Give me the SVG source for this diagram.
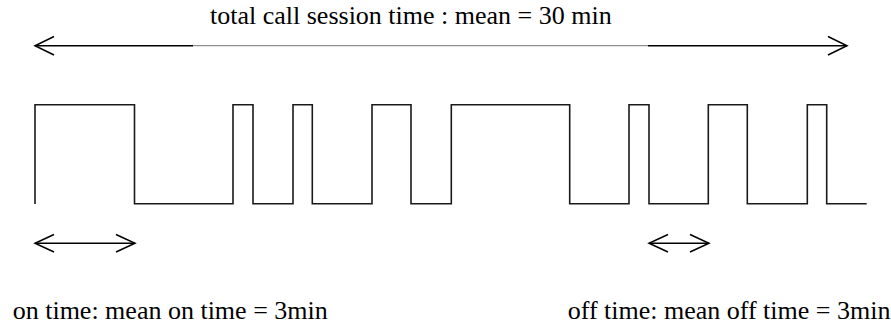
<svg xmlns="http://www.w3.org/2000/svg" width="891" height="333" viewBox="0 0 891 333">
  <style>
    .lbl { font-family: "Liberation Serif", "Times New Roman", serif; font-size: 26px; fill: #000; }
    .wave { fill: none; stroke: #1a1a1a; stroke-width: 1.6; stroke-linejoin: miter; }
    .arr { fill: none; stroke: #000; stroke-width: 1.5; }
    .thin { fill: none; stroke: #777; stroke-width: 1; }
  </style>
  <rect width="891" height="333" fill="#fff"/>

  <g id="session-label">
    <text class="lbl" x="210" y="24">total call session time : mean = 30 min</text>
  </g>

  <g id="connectors">
    <!-- total session span -->
    <line class="arr" x1="35" y1="45.7" x2="193" y2="45.7"/>
    <line class="thin" x1="193" y1="45.7" x2="648" y2="45.7"/>
    <line class="arr" x1="648" y1="45.7" x2="847" y2="45.7"/>
    <polyline class="arr" points="54,36.5 35,45.7 54,55"/>
    <polyline class="arr" points="828,36.5 847,45.7 828,55"/>
    <!-- on-time span -->
    <line class="arr" x1="35" y1="243.3" x2="135" y2="243.3"/>
    <polyline class="arr" points="54,234.5 35,243.3 54,252"/>
    <polyline class="arr" points="116,234.5 135,243.3 116,252"/>
    <!-- off-time span -->
    <line class="arr" x1="649" y1="243.3" x2="709" y2="243.3"/>
    <polyline class="arr" points="668,234.5 649,243.3 668,252"/>
    <polyline class="arr" points="690,234.5 709,243.3 690,252"/>
  </g>

  <g id="waveform">
    <path class="wave" d="M35,204 V104.7 H134.5 V203.7 H233 V104.7 H253 V203.7 H293 V104.7 H312.3 V203.7 H372 V104.7 H411 V203.7 H451.3 V104.7 H569.7 V203.7 H629 V104.7 H649 V203.7 H708.3 V104.7 H747.3 V203.7 H807.3 V104.7 H826.7 V203.7 H866.7"/>
  </g>

  <g id="on-label">
    <text class="lbl" x="12.7" y="319">on time: mean on time = 3min</text>
  </g>
  <g id="off-label">
    <text class="lbl" x="567.7" y="319">off time: mean off time = 3min</text>
  </g>
</svg>
